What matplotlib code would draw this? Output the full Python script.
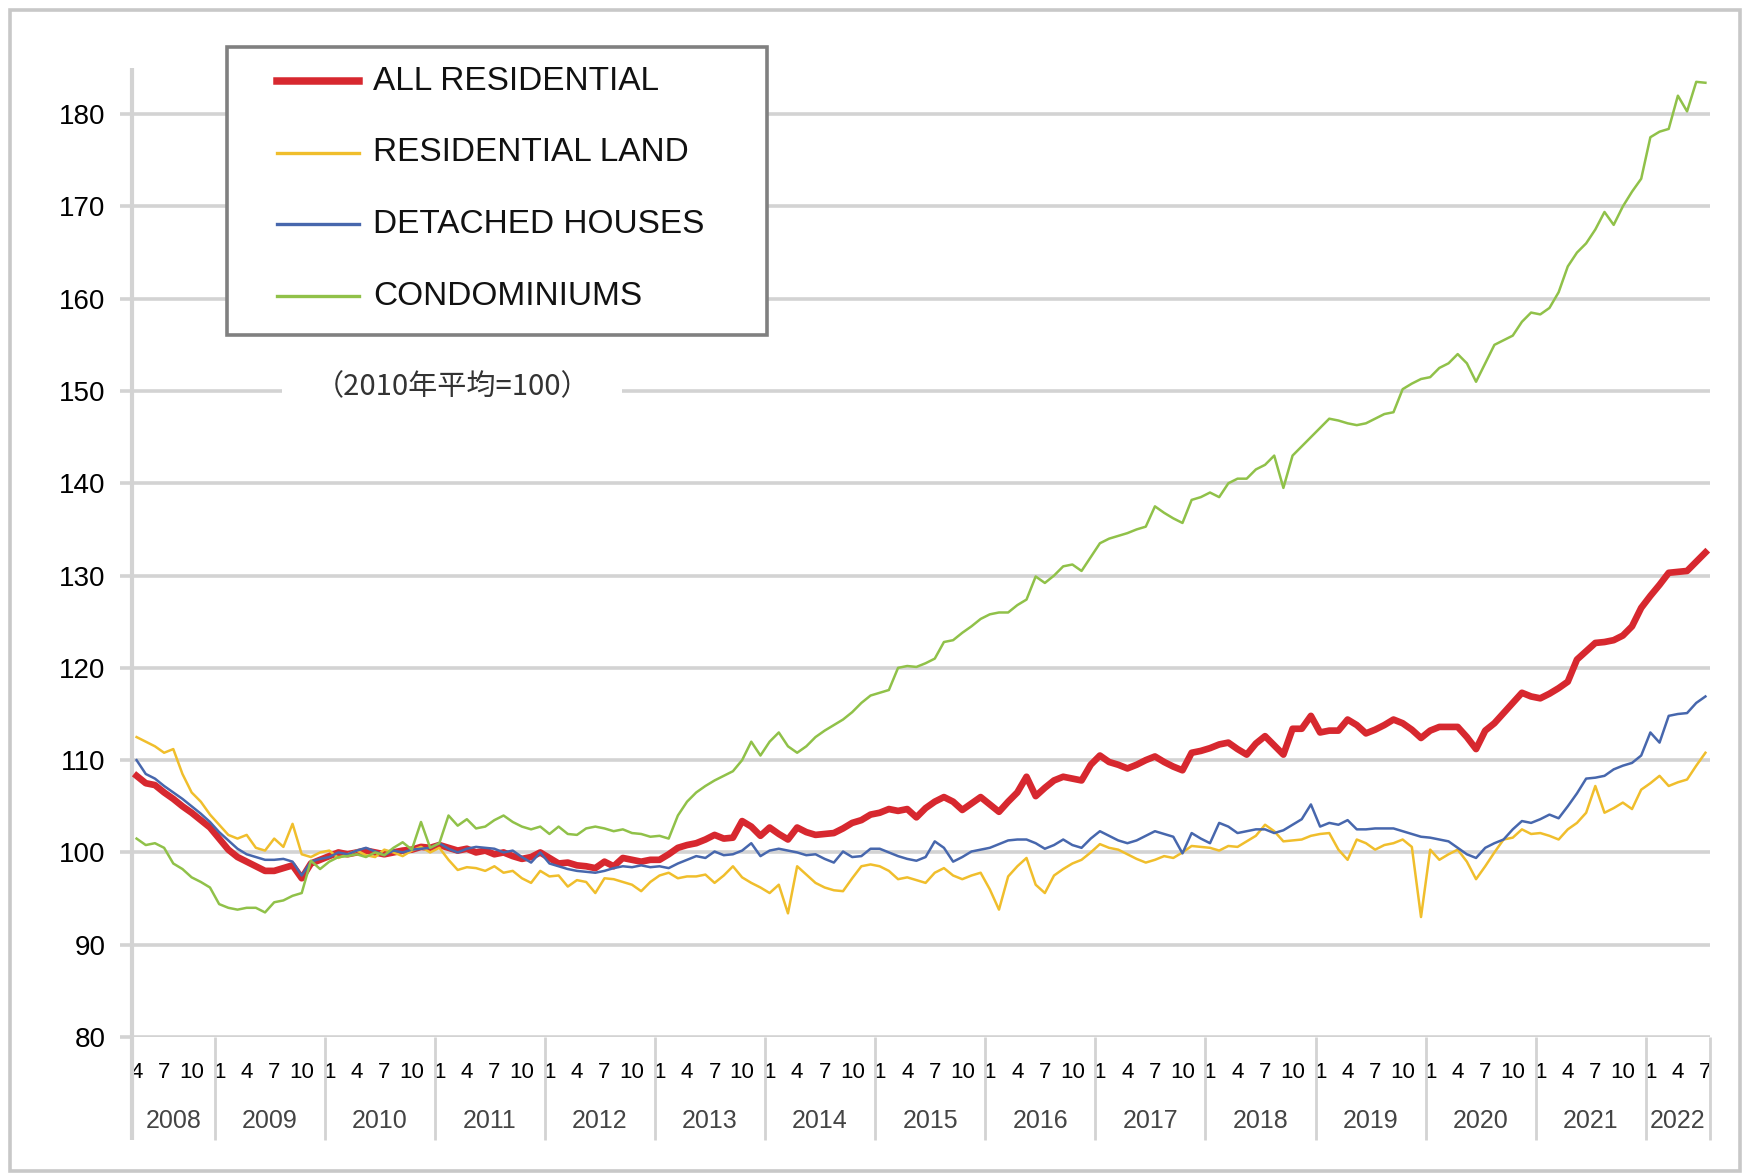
import matplotlib.pyplot as plt
from matplotlib.lines import Line2D
from matplotlib.patches import Rectangle
import numpy as np

plt.rcParams['font.family'] = ['Liberation Sans Narrow', 'Liberation Sans', 'DejaVu Sans']

# monthly index, 2010 average = 100, from 2008-04 to 2022-07
start_year, start_month = 2008, 4

all_res = [
    108.3, 107.5, 107.3, 106.5, 105.8, 105.0, 104.3, 103.5, 102.7,
    101.5, 100.3, 99.5, 99.0, 98.5, 98.0, 98.0, 98.3, 98.6, 97.2, 98.8, 99.2,
    99.6, 100.0, 99.8, 100.0, 100.2, 100.0, 99.8, 100.0, 100.2, 100.3, 100.6, 100.5,
    100.8, 100.5, 100.2, 100.4, 100.0, 100.2, 99.8, 100.0, 99.6, 99.3, 99.5, 100.0,
    99.4, 98.8, 98.9, 98.6, 98.5, 98.3, 99.0, 98.5, 99.4, 99.2, 99.0, 99.2,
    99.2, 99.8, 100.5, 100.8, 101.0, 101.4, 101.9, 101.5, 101.6, 103.4, 102.8, 101.8,
    102.7, 102.0, 101.4, 102.7, 102.2, 101.9, 102.0, 102.1, 102.6, 103.2, 103.5, 104.1,
    104.3, 104.7, 104.5, 104.7, 103.8, 104.8, 105.5, 106.0, 105.5, 104.6, 105.3, 106.0,
    105.2, 104.4, 105.5, 106.5, 108.2, 106.1, 107.0, 107.8, 108.2, 108.0, 107.8, 109.5,
    110.5, 109.8, 109.5, 109.1, 109.5, 110.0, 110.4, 109.8, 109.3, 108.9, 110.8, 111.0,
    111.3, 111.7, 111.9, 111.2, 110.6, 111.8, 112.6, 111.6, 110.6, 113.4, 113.4, 114.8,
    113.0, 113.2, 113.2, 114.4, 113.8, 112.9, 113.3, 113.8, 114.4, 114.0, 113.3, 112.4,
    113.2, 113.6, 113.6, 113.6, 112.5, 111.2, 113.2, 114.0, 115.1, 116.2, 117.3, 116.9,
    116.7, 117.2, 117.8, 118.5, 120.9, 121.8, 122.7, 122.8, 123.0, 123.5, 124.5, 126.5,
    127.8, 129.0, 130.3, 130.4, 130.5, 131.5, 132.5,
]

res_land = [
    112.5, 112.0, 111.5, 110.8, 111.2, 108.5, 106.5, 105.5, 104.1,
    103.0, 101.9, 101.5, 101.9, 100.5, 100.2, 101.5, 100.6, 103.1, 99.8, 99.5, 100.0,
    100.2, 99.4, 99.8, 100.2, 99.7, 99.5, 100.3, 100.0, 99.6, 100.2, 100.6, 100.0,
    100.5, 99.2, 98.1, 98.4, 98.3, 98.0, 98.5, 97.8, 98.0, 97.2, 96.7, 98.0,
    97.4, 97.5, 96.3, 97.0, 96.8, 95.6, 97.2, 97.1, 96.8, 96.5, 95.8, 96.8,
    97.5, 97.8, 97.2, 97.4, 97.4, 97.6, 96.7, 97.5, 98.5, 97.3, 96.7, 96.2,
    95.6, 96.5, 93.4, 98.5, 97.6, 96.7, 96.2, 95.9, 95.8, 97.2, 98.5, 98.7,
    98.5, 98.0, 97.1, 97.3, 97.0, 96.7, 97.8, 98.3, 97.5, 97.1, 97.5, 97.8,
    96.0, 93.8, 97.4, 98.5, 99.4, 96.5, 95.6, 97.5, 98.2, 98.8, 99.2, 100.0,
    100.9, 100.5, 100.3, 99.8, 99.3, 98.9, 99.2, 99.6, 99.4, 100.0, 100.7, 100.6,
    100.5, 100.2, 100.7, 100.6, 101.2, 101.8, 103.0, 102.3, 101.2, 101.3, 101.4, 101.8,
    102.0, 102.1, 100.3, 99.2, 101.4, 101.0, 100.3, 100.8, 101.0, 101.4, 100.6, 93.0,
    100.3, 99.2, 99.8, 100.3, 99.0, 97.1, 98.5, 100.0, 101.4, 101.6, 102.5, 102.0,
    102.1, 101.8, 101.4, 102.5, 103.2, 104.3, 107.2, 104.3, 104.8, 105.4, 104.7, 106.8,
    107.5, 108.3, 107.2, 107.6, 107.9, 109.4, 110.8,
]

det_houses = [
    110.0, 108.5, 108.0, 107.2, 106.5, 105.8, 105.0, 104.2, 103.3,
    102.2, 101.3, 100.4, 99.8, 99.5, 99.2, 99.2, 99.3, 99.0, 97.5, 99.0, 99.3,
    99.5, 100.0, 99.8, 100.2, 100.5, 100.1, 99.7, 100.2, 100.0, 100.3, 100.4, 100.5,
    101.0, 100.4, 100.0, 100.4, 100.6, 100.5, 100.4, 100.0, 100.2, 99.5, 98.9, 100.0,
    98.8, 98.5, 98.2, 98.0, 97.9, 97.8, 98.0, 98.3, 98.5, 98.4, 98.6, 98.4,
    98.5, 98.3, 98.8, 99.2, 99.6, 99.4, 100.1, 99.7, 99.8, 100.2, 101.0, 99.6,
    100.2, 100.4, 100.2, 100.0, 99.7, 99.8, 99.3, 98.9, 100.1, 99.5, 99.6, 100.4,
    100.4, 100.0, 99.6, 99.3, 99.1, 99.5, 101.2, 100.5, 99.0, 99.5, 100.1, 100.3,
    100.5, 100.9, 101.3, 101.4, 101.4, 101.0, 100.4, 100.8, 101.4, 100.8, 100.5, 101.5,
    102.3, 101.8, 101.3, 101.0, 101.3, 101.8, 102.3, 102.0, 101.7, 99.9, 102.1, 101.5,
    101.0, 103.2, 102.8, 102.1, 102.3, 102.5, 102.5, 102.1, 102.4, 103.0, 103.6, 105.2,
    102.8, 103.2, 103.0, 103.5, 102.5, 102.5, 102.6, 102.6, 102.6, 102.3, 102.0, 101.7,
    101.6, 101.4, 101.2, 100.5, 99.8, 99.4, 100.5, 101.0, 101.4, 102.5, 103.4, 103.2,
    103.6, 104.1, 103.7, 105.0, 106.4, 108.0, 108.1, 108.3, 109.0, 109.4, 109.7, 110.5,
    113.0, 111.9, 114.8, 115.0, 115.1, 116.2, 116.9,
]

condos = [
    101.5, 100.8, 101.0, 100.5, 98.8, 98.2, 97.3, 96.8, 96.2,
    94.4, 94.0, 93.8, 94.0, 94.0, 93.5, 94.6, 94.8, 95.3, 95.6, 99.1, 98.2,
    99.0, 99.5, 99.6, 99.8, 99.5, 100.0, 99.7, 100.5, 101.1, 100.3, 103.3, 100.5,
    101.0, 104.0, 102.9, 103.6, 102.6, 102.8, 103.5, 104.0, 103.3, 102.8, 102.5, 102.8,
    102.0, 102.8, 102.0, 101.9, 102.6, 102.8, 102.6, 102.3, 102.5, 102.1, 102.0, 101.7,
    101.8, 101.5, 104.0, 105.5, 106.5, 107.2, 107.8, 108.3, 108.8, 110.0, 112.0, 110.5,
    112.0, 113.0, 111.5, 110.8, 111.5, 112.5, 113.2, 113.8, 114.4, 115.2, 116.2, 117.0,
    117.3, 117.6, 120.0, 120.2, 120.1, 120.5, 121.0, 122.8, 123.0, 123.8, 124.5, 125.3,
    125.8, 126.0, 126.0, 126.8, 127.4, 129.9, 129.2, 130.0, 131.0, 131.2, 130.5, 132.0,
    133.5, 134.0, 134.3, 134.6, 135.0, 135.3, 137.5, 136.8, 136.2, 135.7, 138.2, 138.5,
    139.0, 138.5, 140.0, 140.5, 140.5, 141.5, 142.0, 143.0, 139.5, 143.0, 144.0, 145.0,
    146.0, 147.0, 146.8, 146.5, 146.3, 146.5, 147.0, 147.5, 147.7, 150.2, 150.8, 151.3,
    151.5, 152.5, 153.0, 154.0, 153.0, 151.0, 153.0, 155.0, 155.5, 156.0, 157.5, 158.5,
    158.3, 159.0, 160.7, 163.5, 165.0, 166.0, 167.5, 169.4, 168.0, 170.0, 171.6, 173.0,
    177.5, 178.1, 178.4, 182.0, 180.3, 183.5, 183.4,
]

series_names = ['ALL RESIDENTIAL', 'RESIDENTIAL LAND', 'DETACHED HOUSES', 'CONDOMINIUMS']
series_colors = ['#d7282f', '#f0be2c', '#4767ad', '#90c149']
series_widths = [4.8, 1.8, 1.8, 1.8]
note_text = '（2010年平均=100）'

W, H = 1749, 1175
grid_col = '#d3d3d3'

n = len(all_res)
x = np.arange(n)
months = [(start_month - 1 + i) % 12 + 1 for i in range(n)]
years = [start_year + (start_month - 1 + i) // 12 for i in range(n)]

fig = plt.figure(figsize=(W / 100, H / 100), dpi=100)
ax = fig.add_axes([132 / W, 1 - 1037 / H, (1710 - 132) / W, (1037 - 68) / H])

for vals, name, col, lw in zip([all_res, res_land, det_houses, condos],
                               series_names, series_colors, series_widths):
    ax.plot(x, vals, color=col, lw=lw, label=name, zorder=3, solid_joinstyle='round')

ax.set_xlim(-0.5, n - 0.5)
ax.set_ylim(80, 185)
ax.set_yticks(range(80, 181, 10))
ax.yaxis.grid(True, color=grid_col, lw=2.6)
ax.set_axisbelow(True)
for s in ax.spines.values():
    s.set_visible(False)
ax.tick_params(axis='y', length=9, width=2.6, color=grid_col, pad=10, labelsize=20)

# month ticks 1,4,7,10
tick_pos = [i for i in range(n) if months[i] in (1, 4, 7, 10)]
ax.set_xticks(tick_pos, [str(months[i]) for i in tick_pos])
ax.tick_params(axis='x', length=0, pad=18, labelsize=16)

# year separators and labels below the axis
xt = ax.get_xaxis_transform()
bounds = [i - 0.5 for i in range(n) if months[i] == 1] + [n - 0.5]
ax.vlines(bounds, -0.106, 0, transform=xt, colors=grid_col, lw=2, clip_on=False)
ax.vlines([-0.5], -0.106, 1, transform=xt, colors=grid_col, lw=3, clip_on=False)
for yr in sorted(set(years)):
    idx = [i for i in range(n) if years[i] == yr]
    ax.text((idx[0] + idx[-1]) / 2, -0.087, str(yr), transform=xt, ha='center',
            va='center', fontsize=18, color='#444444')

ax.text(34.4, 150.4, note_text, ha='center', va='center', fontsize=21, color='#333333',
        family=['Noto Sans CJK JP', 'DejaVu Sans'], zorder=4,
        bbox=dict(boxstyle='square,pad=1.1', fc='white', ec='none'))

# legend box
tf = fig.transFigure
fig.add_artist(Rectangle((227 / W, 1 - 335 / H), (767 - 227) / W, (335 - 47) / H,
                         transform=tf, fc='white', ec='#808080', lw=2.6, zorder=5))
for k, (name, col, lw) in enumerate(zip(series_names, series_colors, series_widths)):
    yy = 1 - (81 + k * 71.7) / H
    fig.add_artist(Line2D([277 / W, 359 / W], [yy, yy], transform=tf, color=col,
                          lw=lw + 0.6, zorder=6))
    fig.text(373 / W, yy, name, ha='left', va='center', fontsize=24, color='#111111',
             zorder=6)

# outer frame
fig.add_artist(Rectangle((10 / W, 1 - 1171 / H), (1740 - 10) / W, (1171 - 10) / H,
                         transform=tf, fill=False, ec='#c8c8c8', lw=2.6, zorder=7))

fig.savefig('out.png', dpi=100)
